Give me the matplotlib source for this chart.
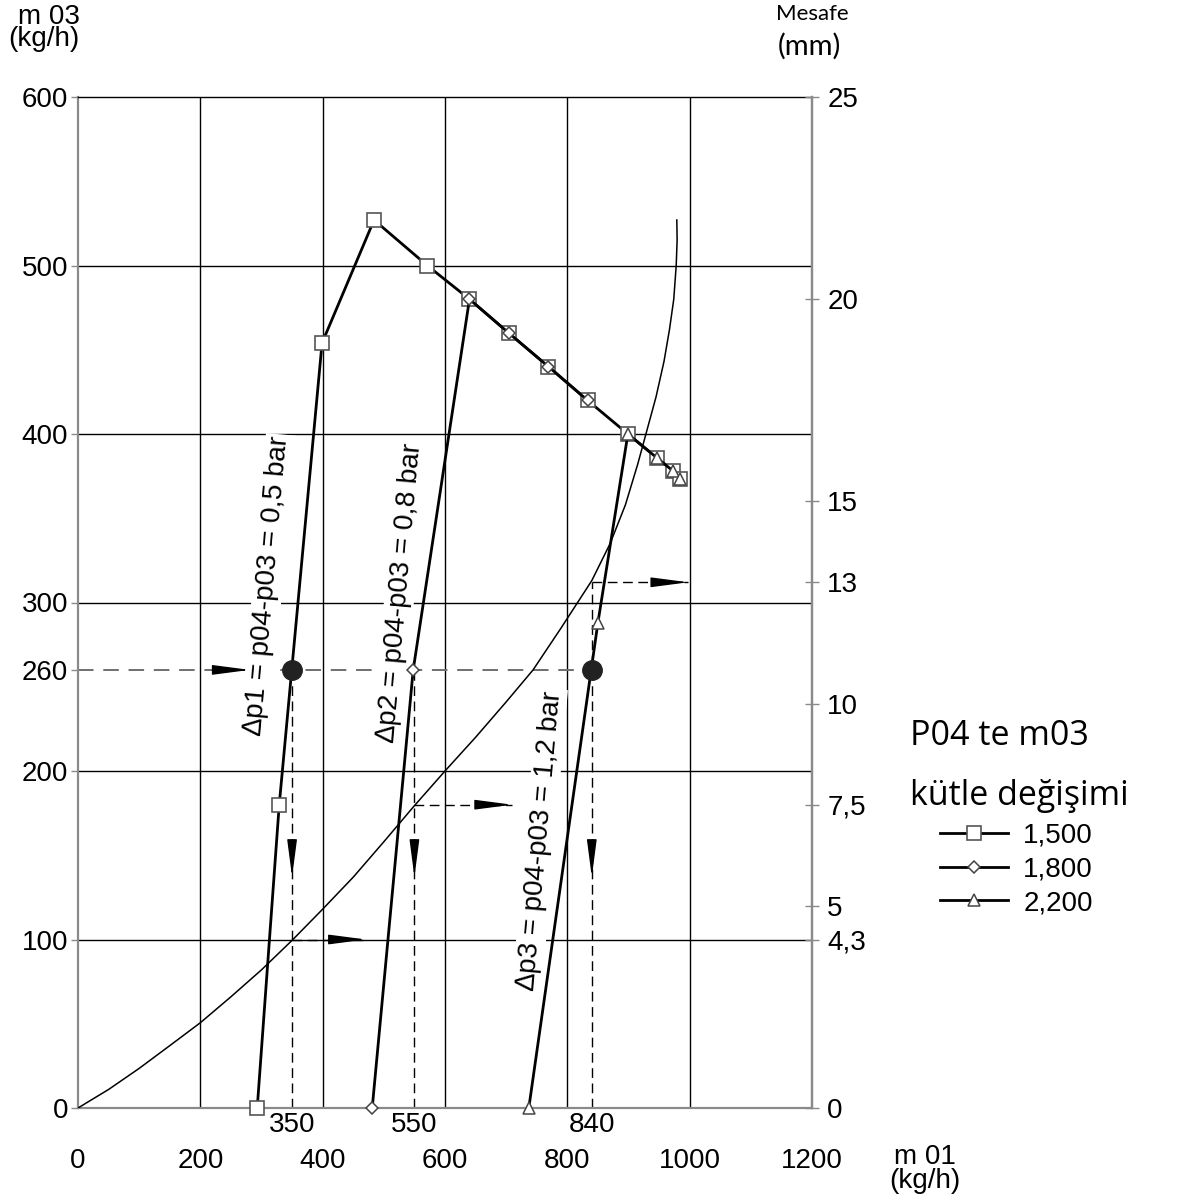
import matplotlib
matplotlib.use('Agg')
import matplotlib.pyplot as plt
import matplotlib.transforms as mtransforms

# ---------------- data ----------------
# series (m01 kg/h, m03 kg/h)
sq_x = [293, 329, 399, 484, 571, 640, 704, 769, 833, 899, 946, 973, 985]
sq_y = [0, 180, 454, 527, 500, 480, 460, 440, 420, 400, 386, 378, 373]
di_x = [481, 548, 640, 704, 769, 833]
di_y = [0, 260, 480, 460, 440, 420]
tr_x = [737, 850, 899, 946, 973, 985]
tr_y = [0, 288, 400, 386, 378, 373]
# thin "Mesafe" curve
curve_x = [0, 50, 100, 150, 200, 250, 300, 350, 400, 450, 500, 549, 600, 650, 700,
           744, 790, 840, 870, 895, 915, 930, 945, 958, 967, 974, 978, 979.5, 979]
curve_y = [0, 11, 23.5, 37, 50.6, 66, 82, 99.5, 118, 137, 158, 179, 200, 220, 241,
           260, 285, 313, 335, 358, 382, 402, 422, 443, 462, 480, 500, 515, 527]

legend_labels = ['1,500', '1,800', '2,200']
dp_labels = ['\u2206p1 = p04-p03 = 0,5 bar',
             '\u2206p2 = p04-p03 = 0,8 bar',
             '\u2206p3 = p04-p03 = 1,2 bar']
dp_label_pos_x = [310, 526, 755]
dp_label_pos_y = [310, 306, 159]

x_ticks = [0, 200, 400, 600, 800, 1000, 1200]
y_ticks = [0, 100, 200, 260, 300, 400, 500, 600]
x_grid = [200, 400, 600, 800, 1000]
y_grid = [100, 200, 300, 400, 500]
mm_labels = ['0', '4,3', '5', '7,5', '10', '13', '15', '20', '25']

read_m03 = 260
read_m01 = [350, 550, 840]
read_m01_labels = ['350', '550', '840']
out_m03 = [100, 180, 312]       # levels read on the Mesafe curve (4,3 / 7,5 / 13 mm)
out_end_m01 = [471, 710, 998]   # arrow tips

MM_MAX, M03_MAX = 25, 600
# the "4,3" tick sits on the 100 kg/h reading level
mm_ticks = [0, out_m03[0] * MM_MAX / M03_MAX, 5, 7.5, 10, 13, 15, 20, 25]

# ---------------- figure ----------------
W, H = 1184, 1200
fig = plt.figure(figsize=(W / 100, H / 100), dpi=100)
ax = fig.add_axes([78 / W, 1 - 1108 / H, (812 - 78) / W, (1108 - 97) / H])
ax.set_xlim(0, 1200)
ax.set_ylim(0, M03_MAX)

FONT = ['Liberation Sans', 'DejaVu Sans']
TITLEFONT = ['Lato', 'DejaVu Sans']
LEGFONT = ['Open Sans', 'DejaVu Sans']

# grid
for gx in x_grid:
    ax.axvline(gx, color='black', lw=1.0, zorder=1)
for gy in y_grid:
    ax.axhline(gy, color='black', lw=1.0, zorder=1)

# spines
for s in ['left', 'bottom', 'right']:
    ax.spines[s].set_color('#8a8a8a')
    ax.spines[s].set_linewidth(1.6)
ax.spines['top'].set_color('black')
ax.spines['top'].set_linewidth(1.0)

ax.set_xticks(x_ticks)
ax.set_xticklabels([str(v) for v in x_ticks], fontsize=20, family=FONT)
ax.tick_params(axis='x', length=0, pad=29)
ax.set_yticks(y_ticks)
ax.set_yticklabels([str(v) for v in y_ticks], fontsize=20, family=FONT)
ax.tick_params(axis='y', length=5, width=1, color='#8a8a8a', pad=2)

ax2 = ax.twinx()
ax2.set_ylim(0, MM_MAX)
ax2.set_yticks(mm_ticks)
ax2.set_yticklabels(mm_labels, fontsize=20, family=FONT)
ax2.tick_params(axis='y', direction='inout', length=10, width=1, color='#8a8a8a', pad=6)
for s in ['left', 'bottom', 'top']:
    ax2.spines[s].set_visible(False)
ax2.spines['right'].set_color('#8a8a8a')
ax2.spines['right'].set_linewidth(1.6)

# thin curve
ax.plot(curve_x, curve_y, color='black', lw=1.1, zorder=3)

# dashed reading lines
ax.plot([0, read_m01[-1]], [read_m03, read_m03], color='#6f6f6f', lw=1.4,
        dashes=(8, 5), zorder=2)
ax.plot([read_m01[0]] * 2, [0, read_m03], color='black', lw=1.0, dashes=(7, 4), zorder=2)
ax.plot([read_m01[1]] * 2, [0, read_m03], color='black', lw=1.0, dashes=(7, 4), zorder=2)
ax.plot([read_m01[2]] * 2, [0, out_m03[2]], color='black', lw=1.0, dashes=(7, 4), zorder=2)
for x0, y0, x1 in zip(read_m01, out_m03, out_end_m01):
    ax.plot([x0, x1], [y0, y0], color='black', lw=1.0, dashes=(7, 4), zorder=2)

ap = dict(arrowstyle='-|>,head_length=1.15,head_width=0.15', color='black',
          lw=1.0, shrinkA=0, shrinkB=0, mutation_scale=20)
ax.annotate('', xy=(281, read_m03), xytext=(225, read_m03), arrowprops=ap, zorder=6)
for x0 in read_m01:
    ax.annotate('', xy=(x0, 137), xytext=(x0, 158), arrowprops=ap, zorder=6)
for x1, y0 in zip(out_end_m01, out_m03):
    ax.annotate('', xy=(x1, y0), xytext=(x1 - 52, y0), arrowprops=ap, zorder=6)

# filled circles
ax.plot([read_m01[0], read_m01[2]], [read_m03, read_m03], 'o', color='#222222',
        markersize=14, zorder=7)

# rotated Δp labels
for lab, tx, ty in zip(dp_labels, dp_label_pos_x, dp_label_pos_y):
    ax.text(tx, ty, lab, rotation=85, rotation_mode='anchor', ha='center', va='center',
            fontsize=20, family=FONT, zorder=4,
            bbox=dict(facecolor='white', edgecolor='none', pad=1.5))

# series
l1, = ax.plot(sq_x, sq_y, color='black', lw=2.0, marker='s', markersize=9.5,
              markerfacecolor='white', markeredgecolor='#555555', markeredgewidth=1.2,
              zorder=5, clip_on=False)
l2, = ax.plot(di_x, di_y, color='black', lw=2.0, marker='D', markersize=6.5,
              markerfacecolor='white', markeredgecolor='#444444', markeredgewidth=1.1,
              zorder=5.2, clip_on=False)
l3, = ax.plot(tr_x, tr_y, color='black', lw=2.0, marker='^', markersize=9,
              markerfacecolor='white', markeredgecolor='#444444', markeredgewidth=1.1,
              zorder=5.4, clip_on=False)

# reading labels under axis
trans = mtransforms.blended_transform_factory(ax.transData, fig.transFigure)
for v, lab in zip(read_m01, read_m01_labels):
    ax.text(v, 1 - 1125 / H, lab, transform=trans, ha='center', va='center',
            fontsize=20, family=FONT)

# axis titles
fig.text(80 / W, 1 - 28 / H, 'm 03\n(kg/h)', ha='right', va='center', fontsize=20,
         family=FONT, linespacing=0.85)
fig.text(925 / W, 1 - 1169 / H, 'm 01\n(kg/h)', ha='center', va='center', fontsize=20,
         family=FONT, linespacing=0.85)
fig.text(812 / W, 1 - 14 / H, 'Mesafe', ha='center', va='center', fontsize=16,
         family=TITLEFONT)
fig.text(809 / W, 1 - 46 / H, '(mm)', ha='center', va='center', fontsize=21,
         family=TITLEFONT)

# legend block
fig.text(910 / W, 1 - 736 / H, 'P04 te m03', ha='left', va='center', fontsize=24.5,
         family=LEGFONT)
fig.text(910 / W, 1 - 796 / H, 'kütle değişimi', ha='left', va='center', fontsize=24.5,
         family=LEGFONT)
fig.legend([l1, l2, l3], legend_labels, loc='upper left',
           bbox_to_anchor=(940 / W, 1 - 823 / H), frameon=False,
           prop={'family': FONT, 'size': 20}, handlelength=2.45, handletextpad=0.55,
           labelspacing=0.27, borderpad=0, borderaxespad=0)

fig.savefig('out.png', dpi=100)
